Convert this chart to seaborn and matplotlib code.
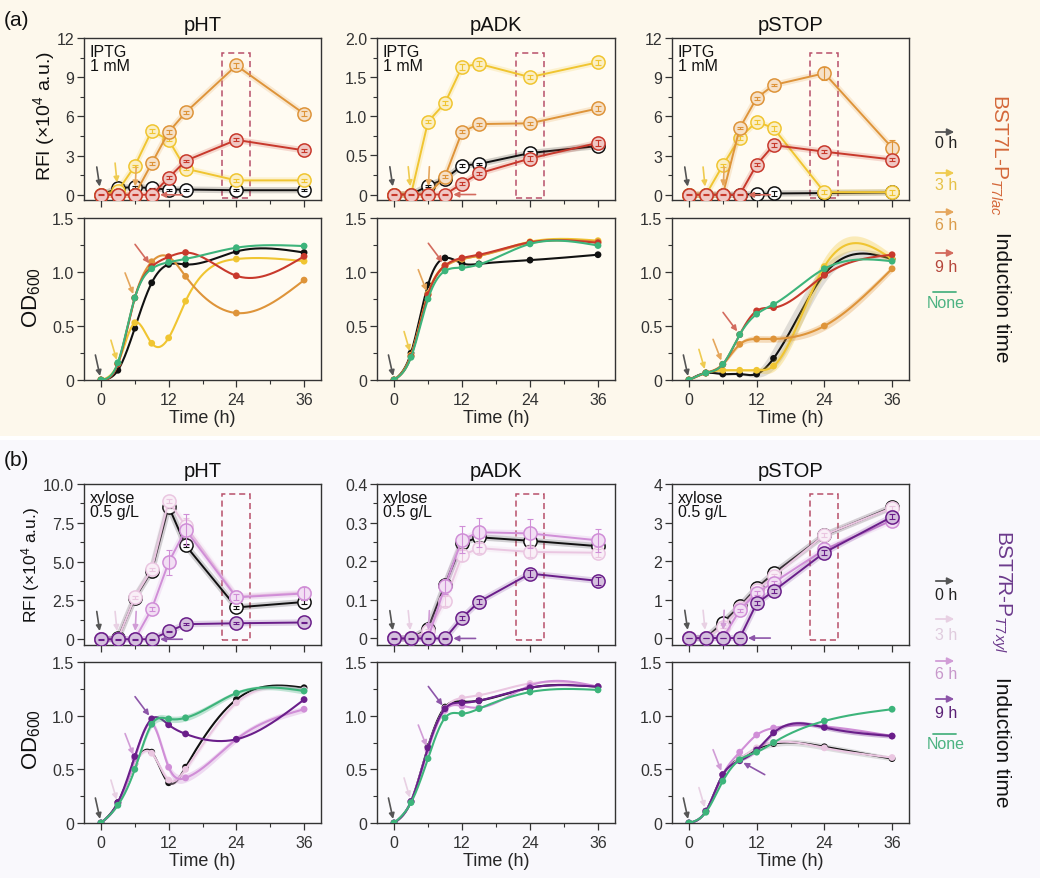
import numpy as np
import matplotlib
matplotlib.use("Agg")
import matplotlib.pyplot as plt
import seaborn as sns
from matplotlib.patches import Rectangle, FancyArrowPatch
from matplotlib.ticker import MultipleLocator, FuncFormatter
import matplotlib.transforms as mtransforms

# ---------------------------------------------------------------- data
TIME = [0, 3, 6, 9, 12, 15, 24, 36]
INDUCED = ["0 h", "3 h", "6 h", "9 h"]
INDUCTION_T = {"0 h": 0, "3 h": 3, "6 h": 6, "9 h": 9}
OD_GROUPS = ["0 h", "3 h", "6 h", "9 h", "None"]
PROMOTERS = ["pHT", "pADK", "pSTOP"]
HIGHLIGHT_T = 24
X_TICKS = [0, 12, 24, 36]

# (a) BST7L-P T7lac, IPTG 1 mM : RFI (x10^4 a.u.)
a_rfi_pHT = {"0 h": [0, 0.5, 0.6, 0.5, 0.4, 0.4, 0.35, 0.35],
             "3 h": [0, 0.3, 2.2, 4.9, 4.2, 2.0, 1.1, 1.1],
             "6 h": [0, 0, 0, 2.4, 4.8, 6.3, 9.9, 6.2],
             "9 h": [0, 0, 0, 0, 1.3, 2.6, 4.2, 3.4]}
a_rfi_pHT_err = {"0 h": [0.05, 0.05, 0.05, 0.05, 0.08, 0.08, 0.08, 0.08],
                 "3 h": [0.05, 0.05, 0.1, 0.15, 0.12, 0.1, 0.1, 0.1],
                 "6 h": [0.05, 0.05, 0.05, 0.1, 0.15, 0.12, 0.2, 0.2],
                 "9 h": [0.05, 0.05, 0.05, 0.05, 0.1, 0.1, 0.12, 0.12]}
a_rfi_pADK = {"0 h": [0, 0, 0.11, 0.2, 0.37, 0.39, 0.53, 0.62],
              "3 h": [0, 0, 0.93, 1.17, 1.63, 1.67, 1.5, 1.69],
              "6 h": [0, 0, 0, 0.23, 0.8, 0.9, 0.91, 1.1],
              "9 h": [0, 0, 0, 0, 0.14, 0.27, 0.46, 0.66]}
a_rfi_pADK_err = {"0 h": [0.005, 0.005, 0.01, 0.01, 0.015, 0.015, 0.02, 0.02],
                  "3 h": [0.005, 0.005, 0.02, 0.03, 0.04, 0.03, 0.03, 0.03],
                  "6 h": [0.005, 0.005, 0.005, 0.02, 0.02, 0.02, 0.02, 0.03],
                  "9 h": [0.005, 0.005, 0.005, 0.005, 0.015, 0.02, 0.03, 0.04]}
a_rfi_pSTOP = {"0 h": [0, 0, 0, 0, 0.05, 0.1, 0.13, 0.18],
               "3 h": [0, 0, 2.25, 4.35, 5.6, 5.1, 0.2, 0.2],
               "6 h": [0, 0, 0, 5.1, 7.4, 8.4, 9.3, 3.6],
               "9 h": [0, 0, 0, 0, 2.3, 3.8, 3.3, 2.7]}
a_rfi_pSTOP_err = {"0 h": [0.05, 0.05, 0.05, 0.05, 0.1, 0.2, 0.1, 0.1],
                   "3 h": [0.05, 0.05, 0.1, 0.12, 0.15, 0.2, 0.15, 0.2],
                   "6 h": [0.05, 0.05, 0.05, 0.1, 0.12, 0.1, 0.5, 0.6],
                   "9 h": [0.05, 0.05, 0.05, 0.05, 0.1, 0.15, 0.12, 0.15]}

# (a) OD600
a_od_pHT = {"0 h": [0, 0.09, 0.48, 0.90, 1.07, 1.07, 1.19, 1.18],
            "3 h": [0, 0.15, 0.53, 0.34, 0.39, 0.73, 1.12, 1.10],
            "6 h": [0, 0.15, 0.76, 1.095, 1.14, 0.96, 0.62, 0.925],
            "9 h": [0, 0.15, 0.76, 1.05, 1.14, 1.18, 0.965, 1.145],
            "None": [0, 0.16, 0.76, 1.03, 1.09, 1.12, 1.225, 1.24]}
a_od_pADK = {"0 h": [0, 0.25, 0.88, 1.13, 1.08, 1.075, 1.11, 1.16],
             "3 h": [0, 0.23, 0.80, 1.06, 1.12, 1.15, 1.28, 1.29],
             "6 h": [0, 0.22, 0.79, 1.05, 1.12, 1.15, 1.27, 1.28],
             "9 h": [0, 0.22, 0.79, 1.06, 1.13, 1.16, 1.275, 1.27],
             "None": [0, 0.21, 0.75, 1.01, 1.04, 1.07, 1.26, 1.245]}
a_od_pSTOP = {"0 h": [0, 0.065, 0.055, 0.055, 0.055, 0.2, 0.98, 1.12],
              "3 h": [0, 0.065, 0.09, 0.09, 0.09, 0.13, 1.05, 1.12],
              "6 h": [0, 0.065, 0.145, 0.33, 0.38, 0.38, 0.50, 1.03],
              "9 h": [0, 0.065, 0.145, 0.42, 0.64, 0.67, 0.97, 1.16],
              "None": [0, 0.065, 0.145, 0.42, 0.61, 0.70, 1.03, 1.10]}
a_od_pSTOP_sd = {"0 h": [0, 0, 0.01, 0.01, 0.03, 0.10, 0.08, 0.03],
                 "3 h": [0, 0, 0.01, 0.01, 0.02, 0.05, 0.08, 0.04],
                 "6 h": [0, 0, 0.01, 0.02, 0.03, 0.03, 0.04, 0.03]}

# (b) BST7R-P T7xyl, xylose 0.5 g/L : RFI
b_rfi_pHT = {"0 h": [0, 0.05, 2.65, 4.4, 8.55, 6.05, 2.05, 2.4],
             "3 h": [0, 0, 2.7, 4.5, 8.9, 7.3, 2.75, 3.0],
             "6 h": [0, 0, 0, 1.95, 4.95, 7.05, 2.7, 2.95],
             "9 h": [0, 0, 0, 0, 0.5, 0.97, 1.03, 1.08]}
b_rfi_pHT_err = {"0 h": [0.03, 0.03, 0.08, 0.12, 0.1, 0.1, 0.1, 0.1],
                 "3 h": [0.03, 0.03, 0.08, 0.12, 0.15, 0.5, 0.2, 0.25],
                 "6 h": [0.03, 0.03, 0.03, 0.15, 0.8, 1.0, 0.2, 0.4],
                 "9 h": [0.03, 0.03, 0.03, 0.03, 0.05, 0.05, 0.05, 0.05]}
b_rfi_pADK = {"0 h": [0, 0, 0.025, 0.139, 0.247, 0.262, 0.253, 0.239],
              "3 h": [0, 0, 0.02, 0.097, 0.215, 0.234, 0.224, 0.222],
              "6 h": [0, 0, 0, 0.135, 0.256, 0.275, 0.272, 0.254],
              "9 h": [0, 0, 0, 0, 0.053, 0.095, 0.168, 0.149]}
b_rfi_pADK_err = {"0 h": [0.002, 0.002, 0.004, 0.012, 0.012, 0.01, 0.012, 0.012],
                  "3 h": [0.002, 0.002, 0.004, 0.012, 0.015, 0.012, 0.012, 0.01],
                  "6 h": [0.002, 0.002, 0.002, 0.02, 0.035, 0.037, 0.037, 0.03],
                  "9 h": [0.002, 0.002, 0.002, 0.002, 0.006, 0.006, 0.008, 0.01]}
b_rfi_pSTOP = {"0 h": [0, 0, 0.4, 0.83, 1.3, 1.68, 2.67, 3.4],
               "3 h": [0, 0, 0.3, 0.78, 1.25, 1.6, 2.68, 3.38],
               "6 h": [0, 0, 0, 0.72, 1.18, 1.44, 2.3, 3.05],
               "9 h": [0, 0, 0, 0, 0.9, 1.22, 2.22, 3.15]}
b_rfi_pSTOP_err = {"0 h": [0.01, 0.01, 0.03, 0.04, 0.04, 0.04, 0.05, 0.08],
                   "3 h": [0.01, 0.01, 0.03, 0.08, 0.06, 0.06, 0.05, 0.06],
                   "6 h": [0.01, 0.01, 0.01, 0.04, 0.05, 0.05, 0.05, 0.06],
                   "9 h": [0.01, 0.01, 0.01, 0.01, 0.05, 0.05, 0.06, 0.06]}

# (b) OD600
b_od_pHT = {"0 h": [0, 0.19, 0.55, 0.66, 0.375, 0.52, 1.15, 1.26],
            "3 h": [0, 0.18, 0.55, 0.65, 0.40, 0.50, 1.12, 1.24],
            "6 h": [0, 0.18, 0.60, 0.93, 0.52, 0.42, 0.78, 1.06],
            "9 h": [0, 0.19, 0.62, 0.97, 0.915, 0.83, 0.78, 1.15],
            "None": [0, 0.165, 0.50, 0.92, 0.97, 0.98, 1.21, 1.23]}
b_od_pHT_sd = {"3 h": [0, 0, 0.01, 0.02, 0.03, 0.03, 0.02, 0.02],
               "6 h": [0, 0, 0.02, 0.03, 0.04, 0.04, 0.03, 0.03],
               "None": [0, 0, 0.01, 0.03, 0.03, 0.03, 0.02, 0.03]}
b_od_pADK = {"0 h": [0, 0.2, 0.71, 1.08, 1.13, 1.14, 1.26, 1.27],
             "3 h": [0, 0.2, 0.70, 1.07, 1.165, 1.19, 1.30, 1.27],
             "6 h": [0, 0.2, 0.68, 1.05, 1.09, 1.075, 1.28, 1.27],
             "9 h": [0, 0.2, 0.70, 1.065, 1.12, 1.14, 1.26, 1.27],
             "None": [0, 0.19, 0.60, 0.98, 1.02, 1.065, 1.22, 1.24]}
b_od_pSTOP = {"0 h": [0, 0.11, 0.45, 0.60, 0.69, 0.74, 0.71, 0.60],
              "3 h": [0, 0.11, 0.44, 0.60, 0.70, 0.75, 0.70, 0.61],
              "6 h": [0, 0.11, 0.45, 0.66, 0.82, 0.885, 0.90, 0.81],
              "9 h": [0, 0.11, 0.45, 0.58, 0.68, 0.84, 0.89, 0.81],
              "None": [0, 0.10, 0.39, 0.59, 0.66, 0.75, 0.95, 1.06]}
b_od_pSTOP_sd = {"0 h": [0, 0, 0.01, 0.02, 0.03, 0.03, 0.03, 0.02],
                 "9 h": [0, 0, 0.01, 0.01, 0.02, 0.02, 0.02, 0.02]}

A_RFI_YTICKS = {"pHT": [0, 3, 6, 9, 12], "pADK": [0, 0.5, 1.0, 1.5, 2.0], "pSTOP": [0, 3, 6, 9, 12]}
B_RFI_YTICKS = {"pHT": [0, 2.5, 5.0, 7.5, 10.0], "pADK": [0, 0.1, 0.2, 0.3, 0.4], "pSTOP": [0, 1, 2, 3, 4]}
OD_YTICKS = [0, 0.5, 1.0, 1.5]
LEGEND_LABELS = ["0 h", "3 h", "6 h", "9 h", "None"]

# ---------------------------------------------------------------- style
A_COLORS = {"0 h": "#111111", "3 h": "#F0C531", "6 h": "#DE943A", "9 h": "#C8392C", "None": "#3DB47B"}
B_COLORS = {"0 h": "#111111", "3 h": "#EAC6E1", "6 h": "#D08ED7", "9 h": "#6A1E8A", "None": "#3DB47B"}
A_ARROW = {"0 h": "#555555", "3 h": "#EFCB50", "6 h": "#E5A65C", "9 h": "#D36B5E", "None": "#4DB382"}
B_ARROW = {"0 h": "#555555", "3 h": "#E8D0E3", "6 h": "#D19CD6", "9 h": "#8D55A9", "None": "#4DB382"}
A_LEG_TEXT = {"0 h": "#222222", "3 h": "#E6C248", "6 h": "#DB9D4C", "9 h": "#B5463B", "None": "#4DB382"}
B_LEG_TEXT = {"0 h": "#222222", "3 h": "#E0CCDE", "6 h": "#C898CB", "9 h": "#5A2075", "None": "#4DB382"}

sns.set_style("ticks")
plt.rcParams.update({
    "font.family": ["Liberation Sans", "DejaVu Sans"],
    "mathtext.fontset": "custom",
    "mathtext.rm": "Liberation Sans",
    "mathtext.it": "Liberation Sans:italic",
    "mathtext.bf": "Liberation Sans:bold",
    "axes.edgecolor": "#333333",
    "xtick.color": "#333333",
    "ytick.color": "#333333",
    "text.color": "#111111",
})

W, H = 1040, 879
fig = plt.figure(figsize=(W / 100, H / 100), dpi=100)
fig.patch.set_facecolor("white")
fig.add_artist(Rectangle((0, 1 - 437 / H), 1, 437 / H, transform=fig.transFigure,
                         facecolor="#FDF8EC", edgecolor="none", zorder=-10))
fig.add_artist(Rectangle((0, 0), 1, 1 - 441 / H, transform=fig.transFigure,
                         facecolor="#F9F8FC", edgecolor="none", zorder=-10))

COLS = [(84, 321), (377, 615), (672, 909)]
ROWS = {"a_rfi": (39, 201), "a_od": (219, 381), "b_rfi": (485, 646), "b_od": (663, 824)}


def px_axes(col, row):
    l, r = COLS[col]
    t, b = ROWS[row]
    return fig.add_axes([l / W, 1 - b / H, (r - l) / W, (b - t) / H])


def tint(c, f=0.72):
    rgb = np.array(matplotlib.colors.to_rgb(c))
    return tuple(rgb * (1 - f) + f)


def natural_spline(x, y, n=240):
    x = np.asarray(x, float)
    y = np.asarray(y, float)
    k = len(x)
    h = np.diff(x)
    A = np.zeros((k, k))
    rhs = np.zeros(k)
    A[0, 0] = A[-1, -1] = 1.0
    for i in range(1, k - 1):
        A[i, i - 1] = h[i - 1]
        A[i, i] = 2 * (h[i - 1] + h[i])
        A[i, i + 1] = h[i]
        rhs[i] = 3 * ((y[i + 1] - y[i]) / h[i] - (y[i] - y[i - 1]) / h[i - 1])
    c = np.linalg.solve(A, rhs)
    bco = (y[1:] - y[:-1]) / h - h * (2 * c[:-1] + c[1:]) / 3
    d = (c[1:] - c[:-1]) / (3 * h)
    xs = np.linspace(x[0], x[-1], n)
    idx = np.clip(np.searchsorted(x, xs, side="right") - 1, 0, k - 2)
    dx = xs - x[idx]
    ys = y[idx] + bco[idx] * dx + c[idx] * dx ** 2 + d[idx] * dx ** 3
    return xs, ys


def style_axes(ax, yticks, ylim, fmt, face, xlabels):
    ax.set_facecolor(face)
    ax.set_xlim(-3, 39)
    ax.set_ylim(*ylim)
    ax.set_xticks(X_TICKS)
    ax.xaxis.set_minor_locator(MultipleLocator(6))
    ax.set_yticks(yticks)
    ax.yaxis.set_minor_locator(MultipleLocator((yticks[1] - yticks[0]) / 2))
    ax.yaxis.set_major_formatter(FuncFormatter(lambda v, p: "0" if abs(v) < 1e-9 else fmt.format(v)))
    ax.tick_params(which="major", direction="out", length=5, width=0.9, labelsize=11.5, pad=2)
    ax.tick_params(axis="x", which="major", pad=4)
    ax.tick_params(which="minor", direction="out", length=3, width=0.8)
    for sp in ax.spines.values():
        sp.set_linewidth(1.0)
        sp.set_color("#333333")
        sp.set_visible(True)
    ax.set_ylabel("")
    if xlabels:
        ax.set_xlabel("Time (h)", fontsize=13, labelpad=1)
    else:
        ax.set_xlabel("")
        ax.tick_params(axis="x", labelbottom=False)


def draw_rfi(ax, data, err, colors, arrows, box, note):
    for i, s in enumerate(INDUCED):
        c = colors[s]
        z = 3 + 3 * i
        sns.lineplot(x=TIME, y=data[s], ax=ax, color=c, lw=4.5, alpha=0.18, zorder=z,
                     legend=False, errorbar=None)
        sns.lineplot(x=TIME, y=data[s], ax=ax, color=c, lw=1.4, marker="o", markersize=9.5,
                     markerfacecolor="white" if s == "0 h" else tint(c), markeredgecolor=c,
                     markeredgewidth=1.1, zorder=z + 1, legend=False, errorbar=None)
        ax.errorbar(TIME, data[s], yerr=err[s], fmt="none", ecolor=c, elinewidth=0.8,
                    capsize=2.3, capthick=0.8, zorder=z + 2)
    offs = {"0 h": (-3, 20), "3 h": (-2, 20), "6 h": (1, 20), "9 h": (22, 0)}
    for s in INDUCED:
        t = INDUCTION_T[s]
        y = data[s][TIME.index(t)]
        ax.annotate("", xy=(t, y), xytext=offs[s], textcoords="offset points",
                    arrowprops=dict(arrowstyle="-|>", color=arrows[s], lw=1.2,
                                    mutation_scale=8, shrinkA=0, shrinkB=6),
                    zorder=30, annotation_clip=False)
    trans = mtransforms.blended_transform_factory(ax.transData, ax.transAxes)
    ax.add_patch(Rectangle((HIGHLIGHT_T - 2.5, box[0]), 5, box[1] - box[0], transform=trans,
                           fill=False, edgecolor="#B8506A", lw=1.1, ls=(0, (4, 2.5)), zorder=2))
    ax.text(0.025, 0.965, note, transform=ax.transAxes, ha="left", va="top",
            fontsize=11.5, linespacing=0.95, zorder=40)


def draw_od(ax, data, sd, colors, arrows, off9=(-12, 16)):
    for i, s in enumerate(OD_GROUPS):
        c = colors[s]
        z = 3 + 3 * i
        xs, ys = natural_spline(TIME, data[s])
        if s in sd:
            lo = np.asarray(data[s]) - np.asarray(sd[s])
            hi = np.asarray(data[s]) + np.asarray(sd[s])
            _, ylo = natural_spline(TIME, lo)
            _, yhi = natural_spline(TIME, hi)
            band = "#9a9a9a" if s == "0 h" else c
            ax.fill_between(xs, ylo, yhi, color=band, alpha=0.3, lw=0, zorder=z - 1)
        sns.lineplot(x=xs, y=ys, ax=ax, color=c, lw=1.5, zorder=z, legend=False, errorbar=None)
        sns.scatterplot(x=TIME, y=data[s], ax=ax, color=c, s=24, edgecolor="none",
                        zorder=z + 1, legend=False)
    offs = {"0 h": (-4, 18), "3 h": (-5, 17), "6 h": (-7, 18), "9 h": off9}
    for s in INDUCED:
        t = INDUCTION_T[s]
        y = data[s][TIME.index(t)]
        ax.annotate("", xy=(t, y), xytext=offs[s], textcoords="offset points",
                    arrowprops=dict(arrowstyle="-|>", color=arrows[s], lw=1.2,
                                    mutation_scale=8, shrinkA=0, shrinkB=3),
                    zorder=30, annotation_clip=False)


A_RFI = [(a_rfi_pHT, a_rfi_pHT_err), (a_rfi_pADK, a_rfi_pADK_err), (a_rfi_pSTOP, a_rfi_pSTOP_err)]
B_RFI = [(b_rfi_pHT, b_rfi_pHT_err), (b_rfi_pADK, b_rfi_pADK_err), (b_rfi_pSTOP, b_rfi_pSTOP_err)]
A_OD = [(a_od_pHT, {}), (a_od_pADK, {}), (a_od_pSTOP, a_od_pSTOP_sd)]
B_OD = [(b_od_pHT, b_od_pHT_sd), (b_od_pADK, {}), (b_od_pSTOP, b_od_pSTOP_sd)]

A_YLIM = {"pHT": (-0.4, 12), "pADK": (-0.07, 2.0), "pSTOP": (-0.4, 12)}
B_YLIM = {"pHT": (-0.37, 10), "pADK": (-0.017, 0.4), "pSTOP": (-0.18, 4)}
A_FMT = {"pHT": "{:.0f}", "pADK": "{:.1f}", "pSTOP": "{:.0f}"}
B_FMT = {"pHT": "{:.1f}", "pADK": "{:.1f}", "pSTOP": "{:.0f}"}

A_FACE = "#FFFBF2"
B_FACE = "#FBFAFD"

for j, p in enumerate(PROMOTERS):
    ax = px_axes(j, "a_rfi")
    draw_rfi(ax, A_RFI[j][0], A_RFI[j][1], A_COLORS, A_ARROW, (0.012, 0.905), "IPTG\n1 mM")
    style_axes(ax, A_RFI_YTICKS[p], A_YLIM[p], A_FMT[p], A_FACE, False)
    ax.set_title(p, fontsize=14.5, pad=6)

    ax = px_axes(j, "a_od")
    draw_od(ax, A_OD[j][0], A_OD[j][1], A_COLORS, A_ARROW)
    style_axes(ax, OD_YTICKS, (0, 1.5), "{:.1f}", A_FACE, True)

    ax = px_axes(j, "b_rfi")
    draw_rfi(ax, B_RFI[j][0], B_RFI[j][1], B_COLORS, B_ARROW, (0.03, 0.935), "xylose\n0.5 g/L")
    style_axes(ax, B_RFI_YTICKS[p], B_YLIM[p], B_FMT[p], B_FACE, False)
    ax.set_title(p, fontsize=14.5, pad=6)

    ax = px_axes(j, "b_od")
    draw_od(ax, B_OD[j][0], B_OD[j][1], B_COLORS, B_ARROW,
            off9=(18, -10) if p == "pSTOP" else (-12, 16))
    style_axes(ax, OD_YTICKS, (0, 1.5), "{:.1f}", B_FACE, True)


def ftext(x, y, s, **kw):
    fig.text(x / W, 1 - y / H, s, **kw)


# axis titles
ftext(44, 116, r"RFI (×10$^{4}$ a.u.)", rotation=90, ha="center", va="center", fontsize=14)
ftext(32, 298, r"OD$_{600}$", rotation=90, ha="center", va="center", fontsize=16)
ftext(31, 565, r"RFI (×10$^{4}$ a.u.)", rotation=90, ha="center", va="center", fontsize=12.5)
ftext(32, 740, r"OD$_{600}$", rotation=90, ha="center", va="center", fontsize=16)

# panel letters
ftext(4, 20, "(a)", ha="left", va="center", fontsize=15)
ftext(4, 461, "(b)", ha="left", va="center", fontsize=15)


def legend_block(ys_arrow, ys_text, arrow_cols, text_cols):
    for lab, ya, yt in zip(LEGEND_LABELS, ys_arrow, ys_text):
        if lab == "None":
            fig.add_artist(matplotlib.lines.Line2D([933 / W, 956 / W], [1 - ya / H, 1 - ya / H],
                                                   transform=fig.transFigure,
                                                   color=arrow_cols[lab], lw=1.3))
        else:
            fig.add_artist(FancyArrowPatch((933 / W, 1 - ya / H), (957 / W, 1 - ya / H),
                                           transform=fig.transFigure, arrowstyle="-|>",
                                           mutation_scale=10, color=arrow_cols[lab], lw=1.3))
        ftext(946, yt, lab, ha="center", va="center", fontsize=11.5, color=text_cols[lab])


legend_block([133, 174, 213, 254, 293], [144, 186, 225, 267, 304], A_ARROW, A_LEG_TEXT)
legend_block([582, 620, 662, 700, 735], [596, 635, 675, 714, 745], B_ARROW, B_LEG_TEXT)

ftext(999, 155, r"BST7L-P$_{\mathit{T7lac}}$", rotation=-90, ha="center", va="center",
      fontsize=15, color="#D4683A")
ftext(1002, 297, "Induction time", rotation=-90, ha="center", va="center", fontsize=15)
ftext(1001, 592, r"BST7R-P$_{\mathit{T7xyl}}$", rotation=-90, ha="center", va="center",
      fontsize=15, color="#6C3A8C")
ftext(1001, 742, "Induction time", rotation=-90, ha="center", va="center", fontsize=15)

fig.savefig("out.png", dpi=100, facecolor=fig.get_facecolor())
